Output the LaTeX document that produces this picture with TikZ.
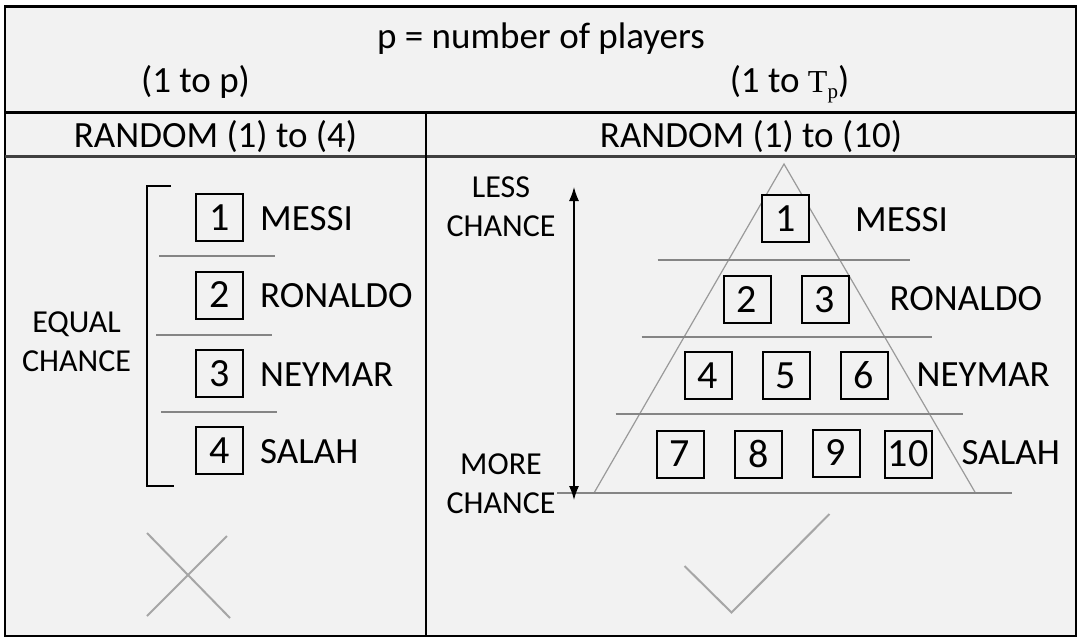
\documentclass[tikz,border=0pt]{standalone}
\usepackage{fontspec}
\setmainfont{Carlito}
\newfontfamily\tpfont{Liberation Serif}
\usetikzlibrary{arrows.meta}
\definecolor{bg}{HTML}{F2F2F2}
\definecolor{sepgray}{HTML}{858585}
\definecolor{trigray}{HTML}{9A9A9A}
\definecolor{markgray}{HTML}{A6A6A6}
\newcommand\bigf{\fontsize{37}{43}\selectfont}
\newcommand\numf{\fontsize{40}{44}\selectfont}
\newcommand\smallf{\fontsize{32}{39}\selectfont}
\begin{document}
\begin{tikzpicture}[x=1pt,y=-1pt,
  numbox/.style={draw=black, line width=2pt, minimum width=47pt, minimum height=47pt, inner sep=0pt, font=\numf},
  plname/.style={anchor=west, inner sep=0pt, font=\bigf},
  headtxt/.style={anchor=base, inner sep=0pt, font=\bigf},
  chancetxt/.style={align=center, inner sep=0pt, font=\smallf},
  sepline/.style={draw=sepgray, line width=1.5pt},
  triline/.style={draw=trigray, line width=1.2pt},
  markline/.style={draw=markgray, line width=2pt},
  frame/.style={draw=black, line width=2.8pt}
]
\useasboundingbox (0,0) rectangle (1085,638);
% background and frame
\fill[bg] (5,6.5) rectangle (1076,636);
\draw[frame] (5,6.5) rectangle (1076,636);
\draw[black, line width=3pt] (5,112.5) -- (1076,112.5);
\draw[black!75, line width=2.6pt] (5,156.5) -- (1076,156.5);
\draw[black, line width=2.2pt] (426,112.5) -- (426,636);

% header
\node[headtxt] (title) at (541,48) {p = number of players};
\node[headtxt] (rangeL) at (195.5,92) {(1 to p)};
\node[headtxt] (rangeR) at (789.5,92) {(1 to {\tpfont\fontsize{32}{34}\selectfont T\raisebox{-6pt}{\fontsize{21}{22}\selectfont p}})};
\node[headtxt] (randL) at (215.5,147) {RANDOM (1) to (4)};
\node[headtxt] (randR) at (751,147) {RANDOM (1) to (10)};

% left panel
\draw[black, line width=2pt] (171,186) -- (147,186) -- (147,486) -- (174,486);
\node[chancetxt] (equal) at (76.5,341.5) {EQUAL\\CHANCE};
\node[numbox] (l1) at (219.5,217.5) {1};
\node[numbox] (l2) at (219.5,295) {2};
\node[numbox] (l3) at (219.5,373.5) {3};
\node[numbox] (l4) at (219.5,450.5) {4};
\node[plname] (ln1) at (260,218.5) {MESSI};
\node[plname] (ln2) at (260,296) {RONALDO};
\node[plname] (ln3) at (260,374.5) {NEYMAR};
\node[plname] (ln4) at (260,451.5) {SALAH};
\draw[sepline] (159,256) -- (275,256);
\draw[sepline] (156,335) -- (272,335);
\draw[sepline] (161,412) -- (277,412);
% cross
\draw[markline] (147,533) -- (230,618);
\draw[markline] (147,616) -- (227,536);

% right panel
\coordinate (apex) at (784,164);
\coordinate (bl) at (594,493);
\coordinate (br) at (975.5,493);
\draw[triline] (bl) -- (apex) -- (br);
\draw[sepline] (657.5,260) -- (910,260);
\draw[sepline] (641.5,337) -- (932,337);
\draw[sepline] (615.5,414) -- (962.5,414);
\draw[sepline] (557,493) -- (1011.5,493);

\node[numbox, fill=bg] (r1) at (785.5,218.5) {1};
\node[numbox] (r2) at (747,299.5) {2};
\node[numbox] (r3) at (825,299.5) {3};
\node[numbox] (r4) at (708,375.5) {4};
\node[numbox] (r5) at (786,375.5) {5};
\node[numbox] (r6) at (864,375.5) {6};
\node[numbox] (r7) at (680,454) {7};
\node[numbox] (r8) at (758.5,454) {8};
\node[numbox] (r9) at (836,453) {9};
\node[numbox] (r10) at (908,454) {10};
\node[plname] (rn1) at (855,219.5) {MESSI};
\node[plname] (rn2) at (889.5,298.5) {RONALDO};
\node[plname] (rn3) at (916.5,375) {NEYMAR};
\node[plname] (rn4) at (961.5,453) {SALAH};

\coordinate (atop) at (574,187);
\coordinate (abot) at (574,500);
\draw[black, line width=1.3pt, {Latex[length=14pt,width=10pt]}-{Latex[length=14pt,width=10pt]}] (atop) -- (abot);
\node[chancetxt] (less) at (501,207) {LESS\\CHANCE};
\node[chancetxt] (more) at (501,484) {MORE\\CHANCE};
% check mark
\draw[markline] (684.5,566) -- (731.5,612.5) -- (829.5,514);
\end{tikzpicture}
\end{document}
